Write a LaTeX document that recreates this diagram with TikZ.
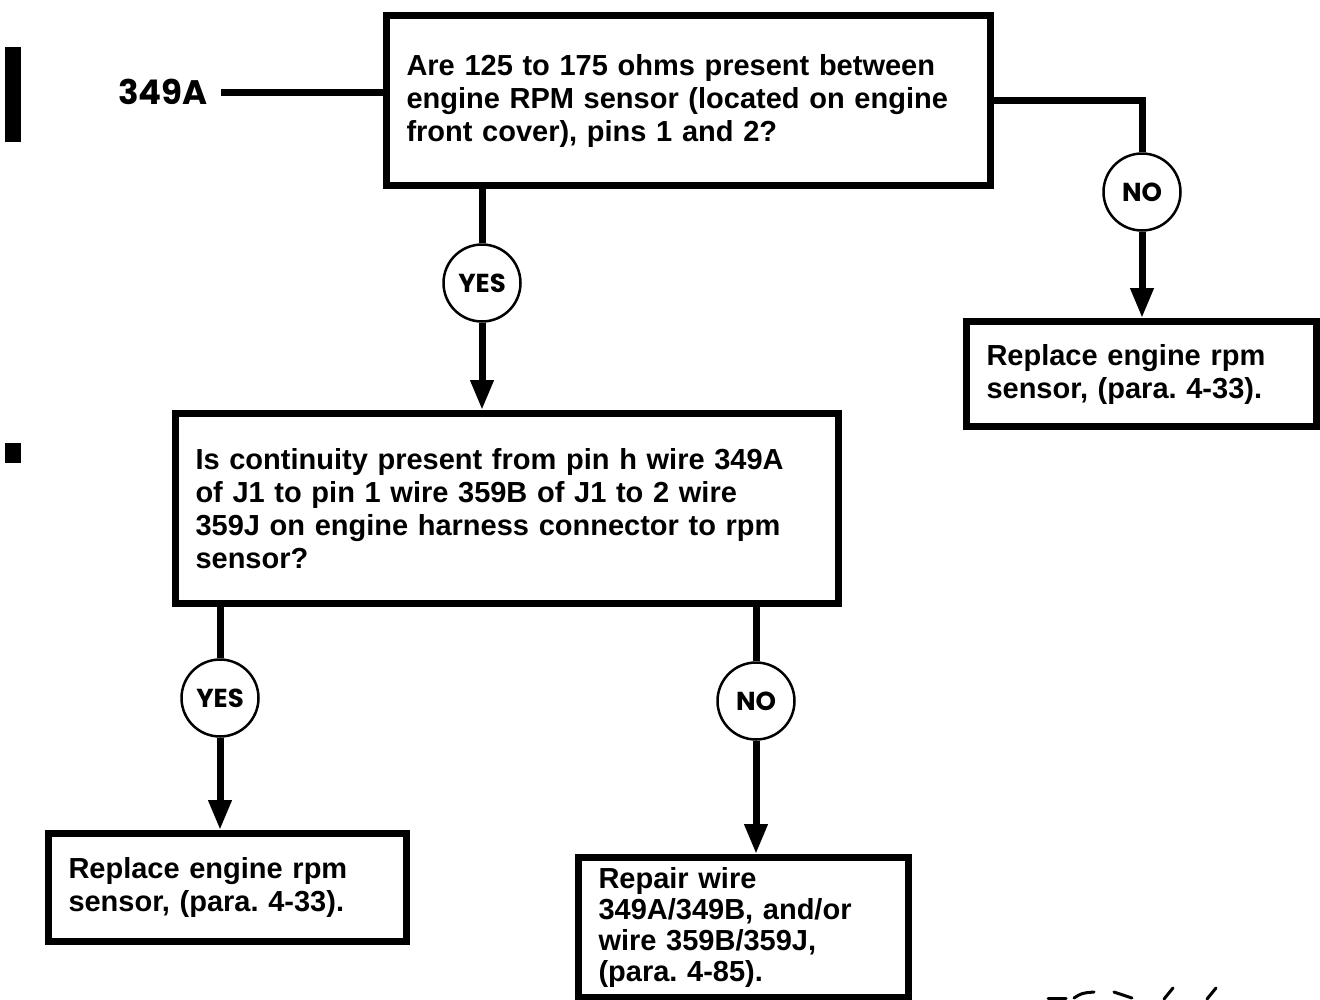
\documentclass[tikz,border=0pt]{standalone}
\usepackage{fontspec}
\setmainfont{Liberation Sans}
\newfontfamily\tagfont{Poppins}
\usetikzlibrary{arrows.meta}
\frenchspacing
\begin{document}
\begin{tikzpicture}[x=1pt, y=-1pt,
  every node/.style={font=\bfseries\fontsize{29}{33}\selectfont},
  box/.style={draw, line width=7pt, inner xsep=20pt, inner ysep=0pt, align=left, anchor=north west},
  tag/.style={draw, circle, line width=2.5pt, minimum size=77pt, inner sep=0pt, fill=white, font=\tagfont\bfseries\fontsize{26}{26}\selectfont},
  wire/.style={line width=7pt},
  flow/.style={line width=7pt, -{Triangle[length=30pt, width=22pt]}}]
\useasboundingbox (0,0) rectangle (1320,999);
% margin marks
\fill (5,47) rectangle (21,142);
\fill (5,443) rectangle (21,463);
% question boxes
\node[box, minimum width=604pt, minimum height=170pt, text width=564pt] (q1) at (383,12) {Are 125 to 175 ohms present between\\engine RPM sensor (located on engine\\front cover), pins 1 and 2?};
\node[box, minimum width=663pt, minimum height=190pt, text width=623pt] (q2) at (172,410) {Is continuity present from pin h wire 349A\\of J1 to pin 1 wire 359B of J1 to 2 wire\\359J on engine harness connector to rpm\\sensor?};
% answer boxes
\node[box, minimum width=350pt, minimum height=105pt, text width=310pt] (r1) at (963,318) {Replace engine rpm\\sensor, (para. 4-33).};
\node[box, minimum width=358pt, minimum height=108pt, text width=318pt] (r2) at (45,830) {Replace engine rpm\\sensor, (para. 4-33).};
\node[box, minimum width=330pt, minimum height=140pt, text width=290pt, font=\bfseries\fontsize{29}{31}\selectfont] (r3) at (575,854) {Repair wire\\349A/349B, and/or\\wire 359B/359J,\\(para. 4-85).};
% entry label
\node[font=\tagfont\bfseries\fontsize{34}{34}\selectfont] (w349) at (163,92) {349A};
\draw[wire] ([xshift=10pt]w349.east) -- (w349 -| q1.west);
% yes/no circles
\node[tag] (no1) at (1142,192) {NO};
\node[tag] (yes1) at (482,283) {YES};
\node[tag] (yes2) at (220,698) {YES};
\node[tag] (no2) at (756,701) {NO};
% connectors
\draw[wire] (q1.east) -- (no1 |- q1.east) -- (no1.north);
\draw[flow] (no1.south) -- (no1 |- r1.north);
\draw[wire] (yes1 |- q1.south) -- (yes1.north);
\draw[flow] (yes1.south) -- (yes1 |- q2.north);
\draw[wire] (yes2 |- q2.south) -- (yes2.north);
\draw[flow] (yes2.south) -- (yes2 |- r2.north);
\draw[wire] (no2 |- q2.south) -- (no2.north);
\draw[flow] (no2.south) -- (no2 |- r3.north);
% scan marks
\draw[line width=3pt, line cap=round] (1048,998) -- (1066,998);
\draw[line width=3pt, line cap=round] (1074,998) .. controls (1082,993) .. (1094,992);
\draw[line width=3pt, line cap=round] (1114,992) -- (1132,998);
\draw[line width=3pt, line cap=round] (1173,988) -- (1164,999);
\draw[line width=3pt, line cap=round] (1216,988) -- (1207,999);
\end{tikzpicture}
\end{document}
